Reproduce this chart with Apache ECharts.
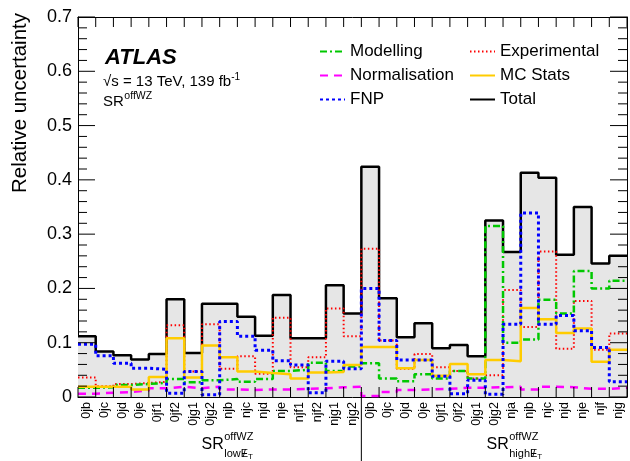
<!DOCTYPE html>
<html><head><meta charset="utf-8">
<script src="https://cdn.jsdelivr.net/npm/echarts@6/dist/echarts.min.js"></script>
<style>html,body{margin:0;padding:0;background:#fff}#c{width:630px;height:461px}</style>
</head><body><div id="c"></div>
<script>
// ---- data ----
const binLabels = ['0jb','0jc','0jd','0je','0jf1','0jf2','0jg1','0jg2','njb','njc','njd','nje','njf1','njf2','njg1','njg2',
                   '0jb','0jc','0jd','0je','0jf1','0jf2','0jg1','0jg2','nja','njb','njc','njd','nje','njf','njg'];
const yTicks = [0,0.1,0.2,0.3,0.4,0.5,0.6,0.7];
const total        = [0.112,0.084,0.077,0.069,0.079,0.180,0.081,0.172,0.172,0.148,0.113,0.188,0.108,0.108,0.206,0.154,
                      0.424,0.182,0.110,0.136,0.090,0.096,0.075,0.325,0.267,0.413,0.404,0.262,0.350,0.246,0.260];
const experimental = [0.036,0.020,0.024,0.026,0.028,0.132,0.047,0.134,0.052,0.075,0.043,0.146,0.055,0.073,0.163,0.112,
                      0.273,0.104,0.052,0.079,0.055,0.048,0.034,0.040,0.197,0.129,0.268,0.089,0.177,0.087,0.117];
const fnp          = [0.097,0.076,0.062,0.053,0.051,0.007,0.047,0.004,0.139,0.112,0.086,0.067,0.059,0.008,0.066,0.052,
                      0.200,0.104,0.068,0.068,0.038,0.006,0.031,0.005,0.134,0.339,0.134,0.150,0.122,0.091,0.028];
const mcStats      = [0.019,0.019,0.019,0.014,0.037,0.108,0.036,0.095,0.073,0.047,0.044,0.042,0.034,0.045,0.046,0.059,
                      0.092,0.092,0.053,0.068,0.039,0.061,0.042,0.068,0.066,0.164,0.143,0.118,0.126,0.065,0.087];
const modelling    = [0.017,0.018,0.022,0.024,0.026,0.033,0.027,0.031,0.033,0.028,0.033,0.048,0.050,0.063,0.048,0.056,
                      0.062,0.034,0.029,0.042,0.034,0.048,0.034,0.315,0.100,0.106,0.179,0.154,0.232,0.200,0.214];
const normalisation= [0.006,0.008,0.009,0.012,0.016,0.019,0.016,0.019,0.014,0.013,0.014,0.014,0.015,0.016,0.018,0.019,
                      0.002,0.009,0.013,0.014,0.015,0.017,0.017,0.018,0.019,0.014,0.019,0.018,0.015,0.015,0.017];
const nLow = 16;

// ---- helpers ----
const FF = '"Liberation Sans", Arial, Helvetica, sans-serif';
function hist(vals){ const d = vals.map((v,i)=>[i,v]); d.push([vals.length, vals[vals.length-1]]); return d; }
const mctx = document.createElement('canvas').getContext('2d');
function tw(t, size, weight, style){ mctx.font = (style||'normal')+' '+(weight||'normal')+' '+size+'px '+FF; return mctx.measureText(t).width; }
function txt(t, x, y, size, opt){ opt = opt||{}; return {type:'text', x:x, y:y, z:100, rotation: opt.rot||0,
  style:{text:t, fill:'#000', fontSize:size, fontFamily:FF, fontWeight:opt.weight||'normal', fontStyle:opt.style||'normal',
         align:opt.align||'left', verticalAlign:opt.va||'middle'}}; }
function seg(x1,y1,x2,y2){ return {type:'line', z:90, silent:true, shape:{x1:x1,y1:y1,x2:x2,y2:y2}, style:{stroke:'#000', lineWidth:1}}; }

const chart = echarts.init(document.getElementById('c'));
function stepSeries(name, vals, color, width, type, extra){
  return Object.assign({name:name, type:'line', step:'end', symbol:'none', showSymbol:false, xAxisIndex:0, yAxisIndex:0,
    data:hist(vals), lineStyle:{color:color, width:width, type:type}, itemStyle:{color:color}, silent:true}, extra||{});
}
function lineCfg(){ return {show:true, onZero:false, lineStyle:{color:'#000', width:1}}; }
const option = {
  animation:false,
  grid:{left:78, right:3, top:17, bottom:64},
  xAxis:[
    {type:'value', min:0, max:binLabels.length, interval:1, position:'top',
     axisLine:lineCfg(), axisTick:{show:false}, axisLabel:{show:false}, splitLine:{show:false}},
    {type:'category', position:'bottom', boundaryGap:true, data:binLabels.map((l,i)=>String(i)),
     axisLine:lineCfg(), axisTick:{show:false},
     axisLabel:{show:true, interval:0, rotate:90, margin:5, fontSize:12.5, fontFamily:FF, color:'#000',
                formatter:(v,i)=>binLabels[i]},
     splitLine:{show:false}}
  ],
  yAxis:[
    {type:'value', min:yTicks[0], max:yTicks[yTicks.length-1], interval:0.1, position:'left',
     axisLine:lineCfg(), axisTick:{show:false}, minorTick:{show:false},
     axisLabel:{show:true, fontSize:18, fontFamily:FF, color:'#000', margin:6,
                formatter:(v)=> v===0 ? '0' : v.toFixed(1)},
     splitLine:{show:false}},
    {type:'value', min:yTicks[0], max:yTicks[yTicks.length-1], interval:0.1, position:'right',
     axisLine:lineCfg(), axisTick:{show:false}, minorTick:{show:false},
     axisLabel:{show:false}, splitLine:{show:false}}
  ],
  legend:[
    {orient:'vertical', left:319, top:43, itemWidth:25, itemHeight:17, itemGap:7, padding:0,
     itemStyle:{opacity:0, borderWidth:0},
     textStyle:{fontSize:17, fontFamily:FF, color:'#000'}, data:['Modelling','Normalisation','FNP']},
    {orient:'vertical', left:469, top:43, itemWidth:25, itemHeight:17, itemGap:7, padding:0,
     itemStyle:{opacity:0, borderWidth:0},
     textStyle:{fontSize:17, fontFamily:FF, color:'#000'}, data:['Experimental','MC Stats','Total']}
  ],
  series:[
    stepSeries('Total', total, '#000', 2.5, 'solid', {areaStyle:{color:'#e6e6e6', opacity:1}, z:1}),
    stepSeries('Experimental', experimental, '#ff0000', 2, [1.5,2.5], {z:3}),
    stepSeries('Modelling', modelling, '#00c800', 2.5, [7,3,2,3], {z:3}),
    stepSeries('Normalisation', normalisation, '#ff00ff', 2.5, [8,6], {z:3}),
    stepSeries('MC Stats', mcStats, '#ffcc00', 2.5, 'solid', {z:3}),
    stepSeries('FNP', fnp, '#0000ff', 3, [3,3], {z:4})
  ]
};
chart.setOption(option);

// ---- frame ticks (positions from the axes' own scales) ----
const g = [];
const px = v => chart.convertToPixel({xAxisIndex:0}, v);
const py = v => chart.convertToPixel({yAxisIndex:0}, v);
const xL = px(0), xR = px(binLabels.length), yB = py(0), yT = py(yTicks[yTicks.length-1]);
for (let i = 0; i <= binLabels.length; i++) {
  const x = px(i);
  g.push(seg(x, yT, x, yT + 10));
  g.push(seg(x, yB, x, yB - 10));
}
for (let k = 0; k <= 35; k++) {
  const y = py(k * 0.02);
  const len = (k % 5 === 0) ? 17 : 9;
  g.push(seg(xL, y, xL + len, y));
  g.push(seg(xR, y, xR - len, y));
}

// ---- annotations ----
g.push(txt('Relative uncertainty', 20, 13, 20.5, {rot:Math.PI/2, align:'right'}));
g.push(txt('ATLAS', 105, 57.5, 22, {weight:'bold', style:'italic'}));
const l1 = '\u221As = 13 TeV, 139 fb';
g.push(txt(l1, 103, 82, 15));
g.push(txt('-1', 103 + tw(l1,15), 77, 10));
g.push(txt('SR', 103, 102, 15));
g.push(txt('offWZ', 103 + tw('SR',15) + 0.5, 96, 10.5));
function regionLabel(x0, sub){
  const sz = 16, ss = 11;
  g.push(txt('SR', x0, 445, sz));
  const xs = x0 + tw('SR', sz) + 0.5;
  g.push(txt('offWZ', xs, 437, ss));
  g.push(txt(sub, xs, 454, ss));
  const xe = xs + tw(sub, ss);
  g.push(txt('E', xe, 454, ss));
  g.push(txt('/', xe + tw('E', ss)/2, 454, ss, {align:'center'}));
  g.push(txt('T', xe + tw('E', ss), 457, 8));
}
regionLabel(201.5, 'low');
regionLabel(486.5, 'high');
const xDiv = px(nLow);
g.push({type:'line', z:100, shape:{x1:xDiv, y1:yB, x2:xDiv, y2:461}, style:{stroke:'#000', lineWidth:1}});
chart.setOption({graphic:g});
</script></body></html>
